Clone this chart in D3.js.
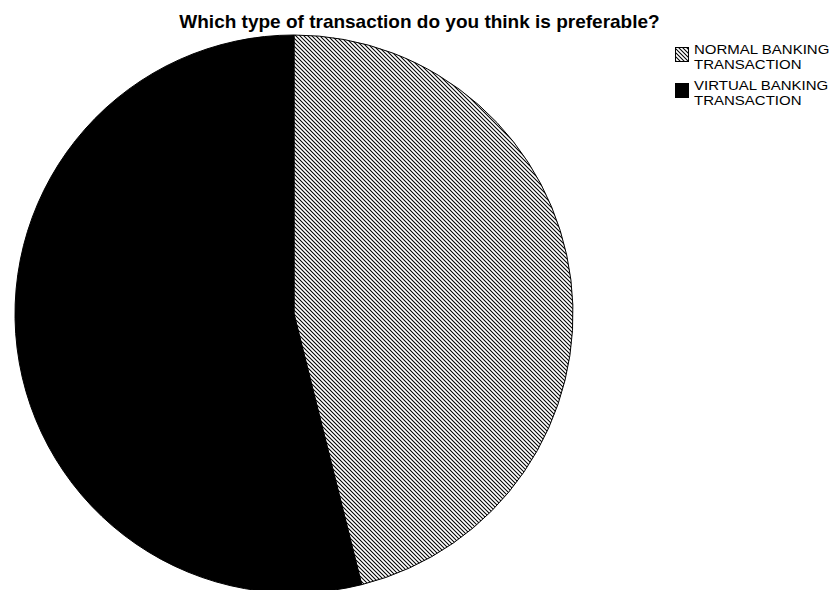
<!DOCTYPE html>
<html>
<head>
<meta charset="utf-8">
<script src="https://cdn.jsdelivr.net/npm/d3@7"></script>
<style>
  html, body { margin: 0; padding: 0; background: #fff; }
  svg { display: block; }
  text { font-family: "Liberation Sans", Arial, sans-serif; }
</style>
</head>
<body>
<svg id="chart" width="837" height="590"></svg>
<script>
// Survey answers (percent of respondents)
const categories = ["NORMAL BANKING TRANSACTION", "VIRTUAL BANKING TRANSACTION"];
const shares = [46.1, 53.9];
const legendLines = [["NORMAL BANKING", "TRANSACTION"], ["VIRTUAL BANKING", "TRANSACTION"]];
const titleText = "Which type of transaction do you think is preferable?";

const width = 837, height = 590;
const svg = d3.select("#chart");

// Diagonal hatch for the first category
const defs = svg.append("defs");
const hatch = defs.append("pattern")
  .attr("id", "hatch")
  .attr("patternUnits", "userSpaceOnUse")
  .attr("width", 4).attr("height", 4);
hatch.append("rect").attr("width", 4).attr("height", 4).attr("fill", "#fff");
hatch.append("path")
  .attr("d", "M-1,-1 L5,5 M-1,3 L1,5 M3,-1 L5,1")
  .attr("stroke", "#000").attr("stroke-width", 1.05);

const fills = ["url(#hatch)", "#000"];

// Title
svg.append("text")
  .attr("x", width / 2 + 1).attr("y", 28)
  .attr("text-anchor", "middle")
  .attr("font-weight", "bold")
  .attr("font-size", 19)
  .attr("fill", "#000")
  .text(titleText);

// Pie
const cx = 294, cy = 314, r = 279;
const pie = d3.pie().sort(null).value(d => d);
const arc = d3.arc().innerRadius(0).outerRadius(r);

svg.append("g")
  .attr("transform", `translate(${cx},${cy})`)
  .selectAll("path")
  .data(pie(shares))
  .join("path")
  .attr("d", arc)
  .attr("fill", (d, i) => fills[i])
  .attr("stroke", "#000")
  .attr("stroke-width", 1);

// Legend: swatch plus a two-line, slightly widened label per category
const legend = svg.append("g").attr("transform", "translate(675,0)");
const rowTop = [44, 80];
categories.forEach((c, i) => {
  const g = legend.append("g").attr("transform", `translate(0,${rowTop[i]})`);
  g.append("rect")
    .attr("x", 0.5).attr("y", 3.5)
    .attr("width", 13).attr("height", 14)
    .attr("fill", fills[i])
    .attr("stroke", "#000").attr("stroke-width", 1);
  const label = g.append("g")
    .attr("transform", "translate(19,0) scale(1.12,1)");
  legendLines[i].forEach((line, j) => {
    label.append("text")
      .attr("x", 0).attr("y", 10.3 + j * 15)
      .attr("font-size", 13.4)
      .attr("fill", "#000")
      .text(line);
  });
});
</script>
</body>
</html>
